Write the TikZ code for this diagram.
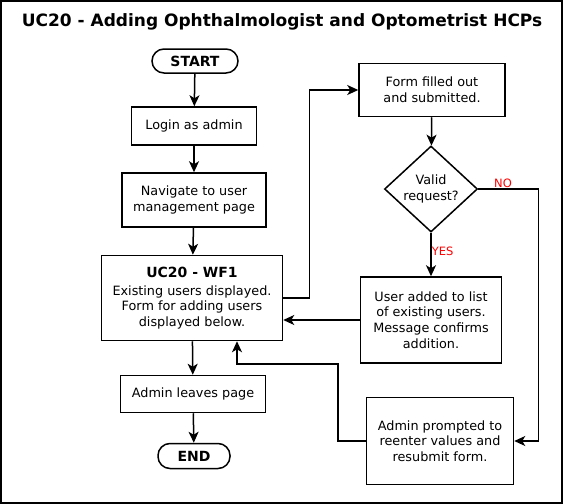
\documentclass[tikz,border=0pt]{standalone}
\usepackage{fontspec}
\setmainfont{DejaVu Sans}
\usetikzlibrary{shapes.geometric,arrows.meta}

\tikzset{
	box/.style={draw, line width=1.5pt, align=center, inner sep=0pt, font=\fontsize{12.8}{15.7}\selectfont},
	term/.style={box, rounded corners=12pt, font=\fontsize{14}{16}\selectfont\bfseries},
	arr/.style={-{Stealth[length=11pt, width=10pt, inset=3pt]}, line width=1.5pt},
	lab/.style={text=red, inner sep=0pt, font=\fontsize{11.5}{13}\selectfont}
}

\begin{document}
\begin{tikzpicture}[x=1pt, y=-1pt]
		\useasboundingbox (0,0) rectangle (563,504);
		\draw [line width=2pt] (1,1) rectangle (562,503);
		\node (title) at (282, 22) {\fontsize{17}{20}\selectfont\bfseries UC20 - Adding Ophthalmologist and Optometrist HCPs};
		% left column
		\node (start) at (195, 61) [term, minimum width=86, minimum height=24] {START};
		\node (login) at (194, 126) [box, minimum width=125, minimum height=38] {Login as admin};
		\node (nav) at (194, 200) [box, minimum width=144, minimum height=54] {Navigate to user\\management page};
		\node (wf) at (192, 298) [box, minimum width=181, minimum height=85] {{\fontsize{14}{16}\selectfont\bfseries UC20 - WF1}\\[2pt]Existing users displayed.\\Form for adding users\\displayed below.};
		\node (leave) at (193, 394) [box, minimum width=145, minimum height=37] {Admin leaves page};
		\node (end) at (194, 456) [term, minimum width=72, minimum height=25] {END};
		% right column
		\node (form) at (432, 90) [box, minimum width=146, minimum height=53] {Form filled out\\and submitted.};
		\node (valid) at (431, 189) [box, shape=diamond, minimum width=93, minimum height=86] {Valid\\request?};
		\node (added) at (431, 320) [box, minimum width=141, minimum height=86] {User added to list\\of existing users.\\Message confirms\\addition.};
		\node (retry) at (440, 441) [box, minimum width=147, minimum height=87] {Admin prompted to\\reenter values and\\resubmit form.};
		\coordinate (bend) at (338, 364);
		% connectors
		\draw [arr] (start) -- (login);
		\draw [arr] (login) -- (nav);
		\draw [arr] (nav) -- (wf);
		\draw [arr] (wf) -- (leave);
		\draw [arr] (leave) -- (end);
		\draw [arr] (wf.east) -- ++(26, 0) |- (form.west);
		\draw [arr] (form) -- (valid);
		\draw [arr] (valid) -- node [lab, pos = 0.42, right] {YES} (added);
		\draw [arr] (valid.east) -- ++(60, 0) |- (retry.east);
		\node [lab] (no) at (503, 183) {NO};
		\draw [arr] (added.west) -- (added.west -| wf.east);
		\draw [arr] (retry.west) -| (bend) -| ([xshift=45pt]wf.south);
	\end{tikzpicture}
\end{document}
